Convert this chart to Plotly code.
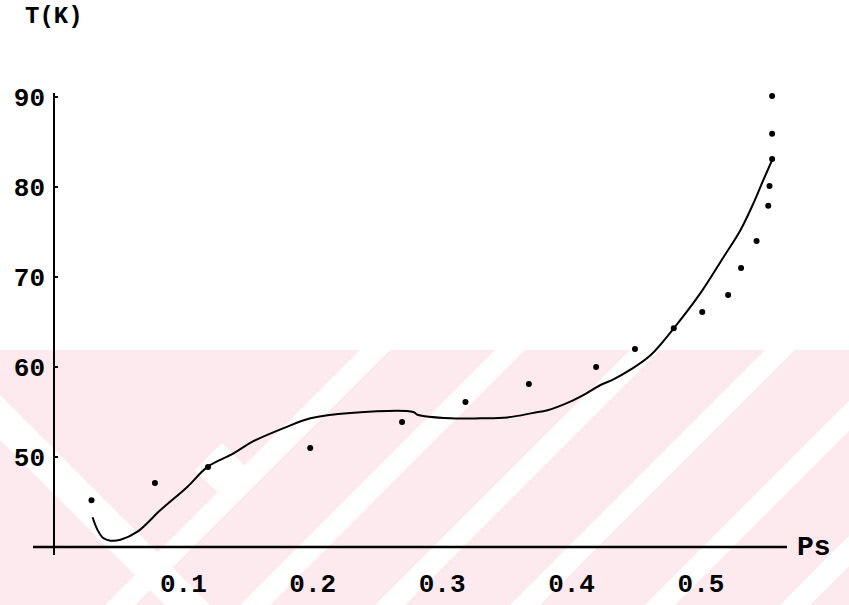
import plotly.graph_objects as go

# Measured data points (Ps, T)
ps_points = [0.029, 0.078, 0.119, 0.198, 0.269, 0.318, 0.367, 0.419, 0.449, 0.479,
             0.501, 0.521, 0.531, 0.543, 0.552, 0.553, 0.555, 0.555, 0.555]
t_points = [45.2, 47.1, 48.9, 51.0, 53.9, 56.1, 58.1, 60.0, 62.0, 64.3,
            66.1, 68.0, 71.0, 74.0, 77.9, 80.1, 83.1, 85.9, 90.1]

# Fitted curve
ps_curve = [0.0298, 0.0336, 0.038, 0.0437, 0.0514, 0.0645, 0.0823, 0.1032, 0.1186,
            0.1387, 0.1534, 0.1774, 0.1982, 0.2291, 0.2778, 0.2809, 0.3064, 0.3296,
            0.3505, 0.3705, 0.3814, 0.395, 0.408, 0.4224, 0.432, 0.4455, 0.461,
            0.479, 0.4996, 0.5174, 0.5305, 0.5406, 0.5483, 0.5553]
t_curve = [43.3, 41.9, 41.0, 40.7, 40.8, 41.7, 44.1, 46.7, 48.9,
           50.4, 51.7, 53.2, 54.3, 54.9, 55.0, 54.7, 54.3, 54.3,
           54.4, 54.9, 55.2, 55.9, 56.8, 58.0, 58.6, 59.7, 61.3,
           64.3, 68.2, 72.2, 75.2, 78.2, 80.8, 83.1]

x_ticks = [0.1, 0.2, 0.3, 0.4, 0.5]
x_ticklabels = ["0.1", "0.2", "0.3", "0.4", "0.5"]
y_ticks = [50, 60, 70, 80, 90]
y_ticklabels = ["50", "60", "70", "80", "90"]

FONT = "Liberation Mono"
W, H = 849, 605
ML, MR, MT, MB = 54, 62, 93, 58
PW, PH = W - ML - MR, H - MT - MB


def px(x):
    return (x - ML) / PW


def py(y):
    return (H - MB - y) / PH


def poly(points, color):
    d = "M " + " L ".join(f"{px(a):.4f},{py(b):.4f}" for a, b in points) + " Z"
    return dict(type="path", xref="paper", yref="paper", path=d, layer="below",
                fillcolor=color, line=dict(width=0))


PINK = "#fdeaee"
bg_shapes = [poly([(0, 350), (W, 350), (W, H), (0, H)], PINK)]
# white diagonal gaps of the background watermark
for a in [105, 240, 375, 510, 645, 780]:
    bg_shapes.append(poly([(a, H), (a + 30, H), (a + 285, 350), (a + 255, 350)], "white"))
bg_shapes.append(poly([(0, 395), (0, 440), (165, H), (210, H)], "white"))
bg_shapes.append(poly([(195, 470), (222, 443), (249, 470), (222, 497)], "white"))

axis_shapes = [
    dict(type="line", xref="paper", yref="paper", x0=px(33), x1=1.0, y0=0, y1=0,
         line=dict(color="black", width=2.5)),
    dict(type="line", xref="paper", yref="paper", x0=0, x1=0, y0=py(555), y1=1.0,
         line=dict(color="black", width=2)),
]

fig = go.Figure()
fig.add_trace(go.Scatter(x=ps_curve, y=t_curve, mode="lines",
                         line=dict(color="black", width=2, shape="spline"),
                         hoverinfo="skip", showlegend=False))
fig.add_trace(go.Scatter(x=ps_points, y=t_points, mode="markers",
                         marker=dict(color="black", size=6, symbol="circle"),
                         showlegend=False))

fig.update_layout(
    width=W, height=H,
    margin=dict(l=ML, r=MR, t=MT, b=MB),
    paper_bgcolor="white", plot_bgcolor="rgba(0,0,0,0)",
    font=dict(family=FONT, size=26, color="black"),
    xaxis=dict(range=[0, 0.5665], showgrid=False, zeroline=False, showline=False,
               automargin=False,
               tickmode="array", tickvals=x_ticks, ticktext=x_ticklabels,
               ticks="", ticklabelstandoff=18,
               tickfont=dict(family=FONT, size=26, color="black", weight="bold")),
    yaxis=dict(range=[40, 90.44], showgrid=False, zeroline=False, showline=False,
               automargin=False,
               tickmode="array", tickvals=y_ticks, ticktext=y_ticklabels,
               ticks="inside", ticklen=4, tickwidth=2, tickcolor="black",
               ticklabelstandoff=8,
               tickfont=dict(family=FONT, size=26, color="black", weight="bold")),
    shapes=bg_shapes + axis_shapes,
    annotations=[
        dict(text="T(K)", xref="paper", yref="paper", x=0, y=1, xanchor="center",
             yanchor="middle", yshift=77, showarrow=False,
             font=dict(family=FONT, size=24, color="black", weight="bold")),
        dict(text="Ps", xref="paper", yref="paper", x=1, y=0, xanchor="left",
             yanchor="middle", xshift=8, showarrow=False,
             font=dict(family=FONT, size=28, color="black", weight="bold")),
    ],
)

fig.write_html("out.html")
